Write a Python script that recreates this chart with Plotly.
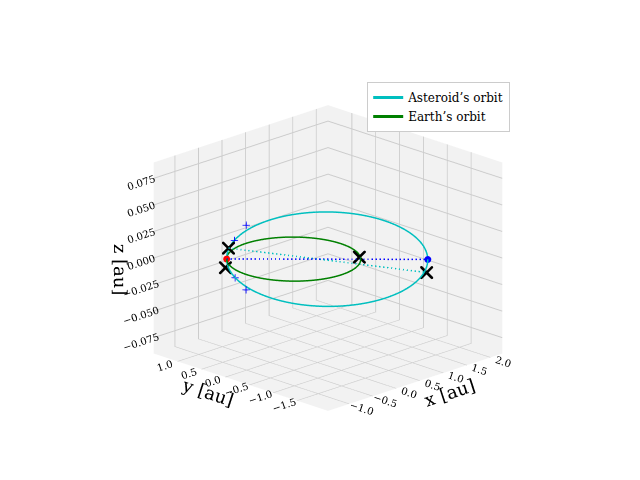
import numpy as np
import plotly.graph_objects as go

# orbit shapes (au) in the viewing frame: R = across, D = depth
ast_r_centre, ast_r_semi = 0.5, 1.5
ast_d_centre, ast_d_semi = 0.0, 1.95
ast_tilt = 0.004
earth_r = 1.0
theta = np.linspace(0, 2*np.pi, 240)

# marker positions, same (R, D, z) frame
apse_r = [-1.0, 2.0]
apse_d = [0.0, 0.0]
apse_z = [0.0, 0.0]
node_r = [-0.97, 1.98]
node_d = [0.35, -0.4]
node_z = [0.003, -0.004]
cross_r = [-0.97, 0.98, 1.98, -1.02]
cross_d = [0.35, 0.1, -0.4, -0.25]
cross_z = [0.003, 0.0, -0.004, -0.003]
plus_r = [-0.7, -0.88, -0.88, -0.72]
plus_d = [1.3, 0.75, -0.75, -1.2]
plus_z = [0.005, 0.002, -0.002, -0.004]


def to_xy(r, d):
    r = np.asarray(r, float)
    d = np.asarray(d, float)
    return (r + d)/np.sqrt(2), (d - r)/np.sqrt(2)


ar = ast_r_centre + ast_r_semi*np.cos(theta)
ad = ast_d_centre + ast_d_semi*np.sin(theta)
ast_x, ast_y = to_xy(ar, ad)
ast_z = ast_tilt*np.sin(theta)

earth_x = earth_r*np.cos(theta)
earth_y = earth_r*np.sin(theta)
earth_z = np.zeros_like(theta)

cyan = "#00bfbf"
fig = go.Figure()
fig.add_scatter3d(x=ast_x, y=ast_y, z=ast_z, mode="lines",
                  line=dict(color=cyan, width=3), name="Asteroid’s orbit")
fig.add_scatter3d(x=earth_x, y=earth_y, z=earth_z, mode="lines",
                  line=dict(color="green", width=3), name="Earth’s orbit")
x, y = to_xy(apse_r, apse_d)
fig.add_scatter3d(x=x, y=y, z=apse_z, mode="lines",
                  line=dict(color="blue", width=3, dash="dash"), showlegend=False)
fig.add_scatter3d(x=x[:1], y=y[:1], z=apse_z[:1], mode="markers",
                  marker=dict(color="red", size=4), showlegend=False)
fig.add_scatter3d(x=x[1:], y=y[1:], z=apse_z[1:], mode="markers",
                  marker=dict(color="blue", size=4), showlegend=False)
x, y = to_xy(node_r, node_d)
fig.add_scatter3d(x=x, y=y, z=node_z, mode="lines",
                  line=dict(color=cyan, width=3, dash="dash"), showlegend=False)
x, y = to_xy(cross_r, cross_d)
fig.add_scatter3d(x=x, y=y, z=cross_z, mode="markers",
                  marker=dict(symbol="x", color="black", size=3), showlegend=False)
x, y = to_xy(plus_r, plus_d)
fig.add_scatter3d(x=x, y=y, z=plus_z, mode="markers",
                  marker=dict(symbol="cross", color="blue", size=4), showlegend=False)

ax = dict(backgroundcolor="#f2f2f2", gridcolor="#cccccc", showbackground=True,
          tickfont=dict(size=11, family="DejaVu Serif"), zeroline=False)
fig.update_layout(
    width=640, height=480, paper_bgcolor="white",
    font=dict(family="DejaVu Serif", color="black"),
    margin=dict(l=40, r=40, t=30, b=10),
    legend=dict(x=0.57, y=0.9, bordercolor="#cccccc", borderwidth=1, font=dict(size=12)),
    scene=dict(
        xaxis=dict(ax, title=dict(text="x [au]", font=dict(size=18)), range=[-1.45, 2.25],
                   tickvals=[-1.0, -0.5, 0.0, 0.5, 1.0, 1.5, 2.0], tickformat=".1f"),
        yaxis=dict(ax, title=dict(text="y [au]", font=dict(size=18)), range=[-2.15, 1.5],
                   tickvals=[-1.5, -1.0, -0.5, 0.0, 0.5, 1.0], tickformat=".1f"),
        zaxis=dict(ax, title=dict(text="z [au]", font=dict(size=18)), range=[-0.09, 0.09],
                   tickvals=[-0.075, -0.05, -0.025, 0, 0.025, 0.05, 0.075], tickformat=".3f"),
        aspectmode="manual", aspectratio=dict(x=1.12, y=1.12, z=0.92),
        camera=dict(eye=dict(x=-1.3, y=-1.3, z=0.64), projection=dict(type="orthographic")),
    ),
)
fig.write_html("out.html")
